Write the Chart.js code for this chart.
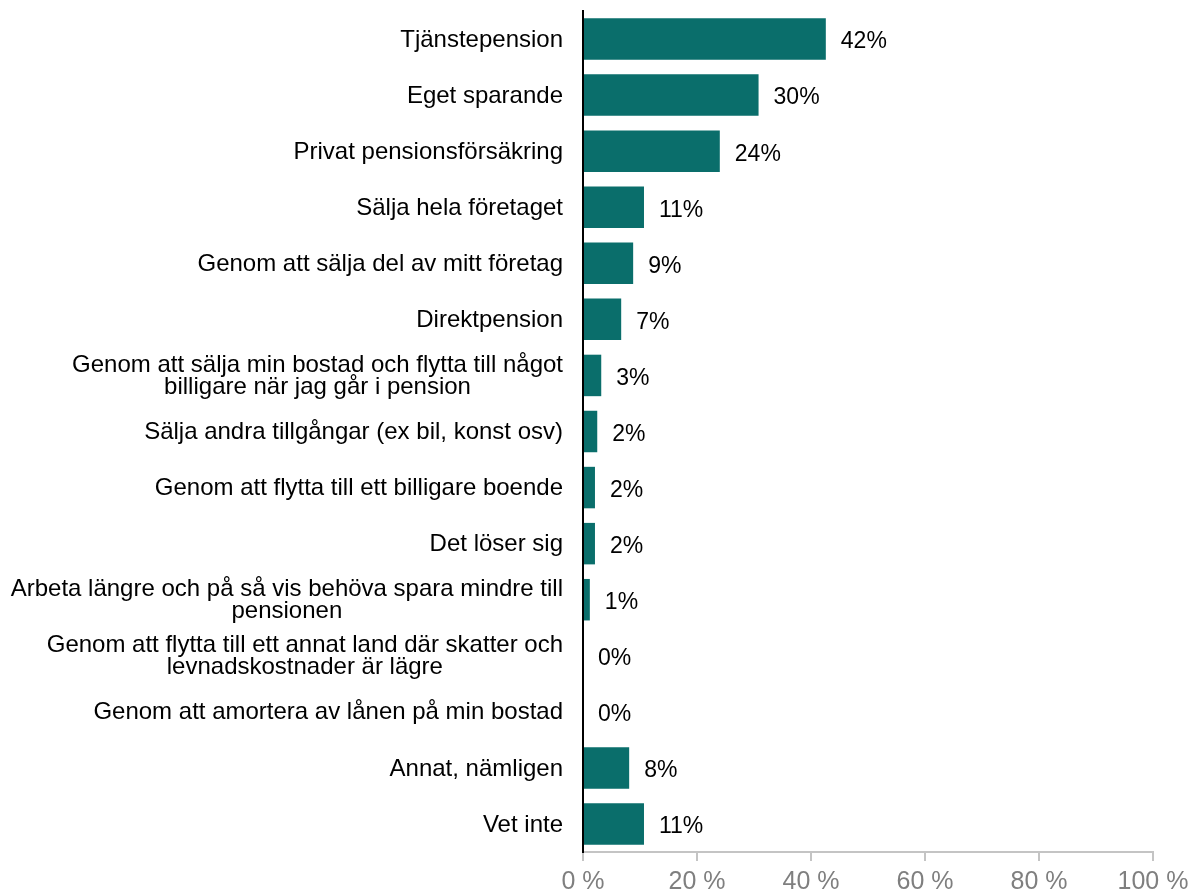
<!DOCTYPE html>
<html>
<head>
<meta charset="utf-8">
<script src="https://cdn.jsdelivr.net/npm/chart.js@4"></script>
<style>
  html, body { margin: 0; padding: 0; background: #fff; }
  #wrap { width: 1195px; height: 896px; position: relative; }
</style>
</head>
<body>
<div id="wrap"><canvas id="chart"></canvas></div>
<script>
// answers, top to bottom (multi-line labels split as in the picture)
const categories = [
  ['Tjänstepension'],
  ['Eget sparande'],
  ['Privat pensionsförsäkring'],
  ['Sälja hela företaget'],
  ['Genom att sälja del av mitt företag'],
  ['Direktpension'],
  ['Genom att sälja min bostad och flytta till något', 'billigare när jag går i pension'],
  ['Sälja andra tillgångar (ex bil, konst osv)'],
  ['Genom att flytta till ett billigare boende'],
  ['Det löser sig'],
  ['Arbeta längre och på så vis behöva spara mindre till', 'pensionen'],
  ['Genom att flytta till ett annat land där skatter och', 'levnadskostnader är lägre'],
  ['Genom att amortera av lånen på min bostad'],
  ['Annat, nämligen'],
  ['Vet inte']
];
// bar lengths (percent)
const shares = [42.6, 30.8, 24.0, 10.7, 8.8, 6.7, 3.2, 2.5, 2.1, 2.1, 1.2, 0, 0, 8.1, 10.7];
// printed value labels
const shareLabels = ['42%', '30%', '24%', '11%', '9%', '7%', '3%', '2%', '2%', '2%', '1%', '0%', '0%', '8%', '11%'];
const tickValues = [0, 20, 40, 60, 80, 100];

const barColor = '#0a6e6b';
const catFont = '24px "Liberation Sans", Arial, sans-serif';
const valFont = '23px "Liberation Sans", Arial, sans-serif';

// draws category names left of the axis and value labels right of the bars
const labelPlugin = {
  id: 'labels',
  afterDraw: function(chart) {
    const ctx = chart.ctx;
    const yScale = chart.scales.y;
    const meta = chart.getDatasetMeta(0);
    ctx.save();
    ctx.fillStyle = '#000';
    ctx.textBaseline = 'middle';

    // category names: block right-aligned, lines centred within block
    ctx.font = catFont;
    const right = 563;
    const lineH = 22;
    categories.forEach(function(lines, i) {
      const yc = yScale.getPixelForValue(i) + 1;
      let maxW = 0;
      lines.forEach(function(l) { maxW = Math.max(maxW, ctx.measureText(l).width); });
      const cx = right - maxW / 2;
      ctx.textAlign = 'center';
      lines.forEach(function(l, k) {
        const y = yc + (k - (lines.length - 1) / 2) * lineH;
        ctx.fillText(l, cx, y);
      });
    });

    // values
    ctx.font = valFont;
    ctx.textAlign = 'left';
    meta.data.forEach(function(bar, i) {
      ctx.fillText(shareLabels[i], bar.x + 15, bar.y + 3);
    });
    ctx.restore();
  }
};

new Chart(document.getElementById('chart'), {
  type: 'bar',
  data: {
    labels: categories.map(c => c.join(' ')),
    datasets: [{
      data: shares,
      backgroundColor: barColor,
      borderWidth: 0,
      barPercentage: 0.74,
      categoryPercentage: 1.0
    }]
  },
  options: {
    indexAxis: 'y',
    responsive: true,
    maintainAspectRatio: false,
    animation: false,
    layout: { padding: { left: 583, right: 42, top: 11, bottom: -7 } },
    plugins: {
      legend: { display: false },
      tooltip: { enabled: false }
    },
    scales: {
      x: {
        min: 0,
        max: 100,
        afterBuildTicks: function(scale) {
          scale.ticks = tickValues.map(v => ({ value: v }));
        },
        ticks: {
          callback: v => v + ' %',
          color: '#7f7f7f',
          font: { family: '"Liberation Sans", Arial, sans-serif', size: 25 },
          padding: 6,
          maxRotation: 0
        },
        grid: {
          drawOnChartArea: false,
          drawTicks: true,
          tickLength: 9,
          color: '#c4c4c4',
          lineWidth: 2
        },
        border: { display: true, color: '#c4c4c4', width: 2 }
      },
      y: {
        ticks: { display: false },
        grid: { display: false },
        border: { display: true, color: '#000', width: 2 },
        afterFit: function(scale) { scale.width = 0; }
      }
    }
  },
  plugins: [labelPlugin]
});
</script>
</body>
</html>
